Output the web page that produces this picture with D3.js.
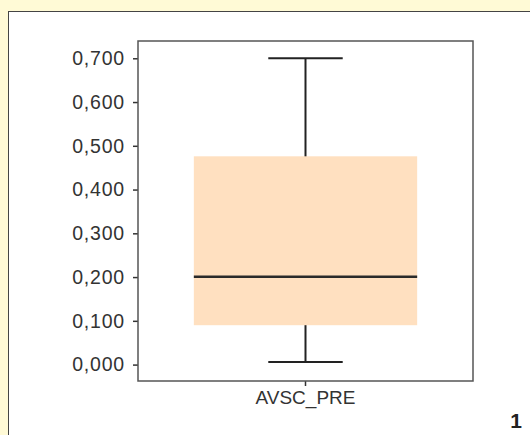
<!DOCTYPE html>
<html>
<head>
<meta charset="utf-8">
<script src="https://cdn.jsdelivr.net/npm/d3@7"></script>
<style>
  body { margin: 0; background: #fffad6; }
  svg { display: block; }
</style>
</head>
<body>
<svg id="chart" width="530" height="435"></svg>
<script>
// box plot values
let categories = ["AVSC_PRE"];
let whiskerLow = [0.006];
let q1 = [0.090];
let median = [0.201];
let q3 = [0.476];
let whiskerHigh = [0.700];
let tickValues = [0, 0.1, 0.2, 0.3, 0.4, 0.5, 0.6, 0.7];
let panelLabel = "1";

let svg = d3.select("#chart");

// white panel
svg.append("rect")
    .attr("x", 8.5)
    .attr("y", 11.5)
    .attr("width", 540)
    .attr("height", 440)
    .attr("fill", "white")
    .attr("stroke", "#444")
    .attr("stroke-width", 1);

let margin = { top: 41, right: 57, bottom: 54, left: 138 };
let width = 530 - margin.left - margin.right;
let height = 435 - margin.top - margin.bottom;

let g = svg.append("g")
    .attr("transform", "translate(" + margin.left + "," + margin.top + ")");

let x = d3.scaleBand()
    .domain(categories)
    .range([0, width])
    .paddingInner(0)
    .paddingOuter(0.25);

let y = d3.scaleLinear()
    .domain([-0.0375, 0.7395])
    .range([height, 0]);

let fmt = d => d3.format(".3f")(d).replace(".", ",");

let yAxis = d3.axisLeft(y)
    .tickValues(tickValues)
    .tickFormat(fmt)
    .tickSize(5)
    .tickPadding(8);

let yg = g.append("g").call(yAxis);
yg.select(".domain").remove();
yg.selectAll("line").attr("stroke", "#333").attr("stroke-width", 1.5);
yg.selectAll("text")
    .attr("font-family", "Liberation Sans, Arial, sans-serif")
    .attr("font-size", 19.5)
    .attr("letter-spacing", 0.8)
    .attr("fill", "#333");

let xAxis = d3.axisBottom(x).tickSize(5).tickPadding(5);
let xg = g.append("g")
    .attr("transform", "translate(0," + height + ")")
    .call(xAxis);
xg.select(".domain").remove();
xg.selectAll("line").attr("stroke", "#333").attr("stroke-width", 1.5);
xg.selectAll("text")
    .attr("font-family", "Liberation Sans, Arial, sans-serif")
    .attr("font-size", 19)
    .attr("fill", "#333");

let boxes = g.selectAll(".box")
    .data(categories)
    .enter().append("g")
    .attr("class", "box");

let bw = x.bandwidth();
let cx = d => x(d) + bw / 2;

// whisker stems
boxes.append("line")
    .attr("x1", cx).attr("x2", cx)
    .attr("y1", (d, i) => y(whiskerHigh[i]))
    .attr("y2", (d, i) => y(whiskerLow[i]))
    .attr("stroke", "#222")
    .attr("stroke-width", 2);

// caps
[whiskerLow, whiskerHigh].forEach(arr => {
    boxes.append("line")
        .attr("x1", d => cx(d) - bw / 6)
        .attr("x2", d => cx(d) + bw / 6)
        .attr("y1", (d, i) => y(arr[i]))
        .attr("y2", (d, i) => y(arr[i]))
        .attr("stroke", "#222")
        .attr("stroke-width", 2);
});

boxes.append("rect")
    .attr("x", d => x(d))
    .attr("width", bw)
    .attr("y", (d, i) => y(q3[i]))
    .attr("height", (d, i) => y(q1[i]) - y(q3[i]))
    .attr("fill", "#ffe0c0");

boxes.append("line")
    .attr("x1", d => x(d))
    .attr("x2", d => x(d) + bw)
    .attr("y1", (d, i) => y(median[i]))
    .attr("y2", (d, i) => y(median[i]))
    .attr("stroke", "#2a2a2a")
    .attr("stroke-width", 2.5);

// frame
g.append("rect")
    .attr("width", width)
    .attr("height", height)
    .attr("fill", "none")
    .attr("stroke", "#555")
    .attr("stroke-width", 1.5);

svg.append("text")
    .attr("x", 516)
    .attr("y", 428)
    .attr("text-anchor", "middle")
    .attr("font-family", "Liberation Sans, Arial, sans-serif")
    .attr("font-weight", "bold")
    .attr("font-size", 21)
    .attr("fill", "#222")
    .text(panelLabel);
</script>
</body>
</html>
